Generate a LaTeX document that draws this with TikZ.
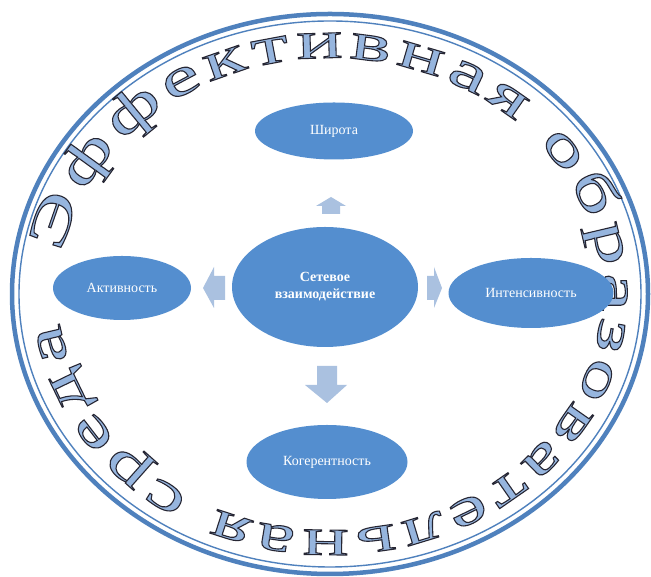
\documentclass[tikz,border=0pt]{standalone}
\usepackage{fontspec}
\setmainfont{Liberation Serif}
\newfontfamily\arcfont[FakeStretch=1.6]{Liberation Serif}
\usetikzlibrary{decorations.text,shapes.geometric}
\definecolor{ringblue}{RGB}{79,129,189}
\definecolor{nodeblue}{RGB}{84,142,207}
\definecolor{arrowblue}{RGB}{170,193,224}
\definecolor{letterfill}{RGB}{150,181,222}
\newcommand\arcchar[1]{\special{pdf:literal direct 2 Tr 1.1 w 0.15 0.15 0.2 RG}#1\special{pdf:literal direct 0 Tr}}
\begin{document}
\begin{tikzpicture}[x=1pt,y=1pt,
  bubble/.style={ellipse, fill=nodeblue, text=white, inner sep=0pt, font=\fontsize{14}{16}\selectfont},
  blockarrow/.style={fill=arrowblue, draw=none}]
\useasboundingbox (0,0) rectangle (651,577);
\fill[white] (0,0) rectangle (651,577);
\draw[ringblue, line width=4.5] (330,283) ellipse [x radius=318, y radius=280];
\draw[ringblue, line width=1.4] (330,283) ellipse [x radius=311, y radius=273];
\path[decorate, decoration={text effects along path,
    text={Эффективная образовательная среда},
    text effects/.cd, text along path, fit text to path,
    character command=\arcchar,
    characters={text=letterfill, font=\arcfont\fontsize{54}{54}\selectfont}}]
  (330,283) ++(170:272 and 236) arc[start angle=170, end angle=-173, x radius=272, y radius=236];
\node[bubble, minimum width=186, minimum height=120, font=\bfseries\fontsize{14}{17}\selectfont, align=center] (net) at (325,290) {Сетевое\\взаимодействие};
\node[bubble, minimum width=158, minimum height=57] (shir) at (334,446) {Широта};
\node[bubble, minimum width=138, minimum height=64] (akt) at (122,289) {Активность};
\node[bubble, minimum width=165, minimum height=70] (int) at (531,284) {Интенсивность};
\node[bubble, minimum width=161, minimum height=74] (kog) at (327,115) {Когерентность};
\fill[blockarrow] (322,363) -- (322,371) -- (316,371) -- (331,380) -- (346,371) -- (340,371) -- (340,363) -- cycle;
\fill[blockarrow] (225,277) -- (214,277) -- (214,269) -- (203,289) -- (214,310) -- (214,301) -- (225,301) -- cycle;
\fill[blockarrow] (427,277) -- (434,277) -- (434,269) -- (442,289) -- (434,310) -- (434,301) -- (427,301) -- cycle;
\fill[blockarrow] (317,211) -- (337,211) -- (337,192) -- (347,192) -- (327,174) -- (305,192) -- (317,192) -- cycle;
\end{tikzpicture}
\end{document}
